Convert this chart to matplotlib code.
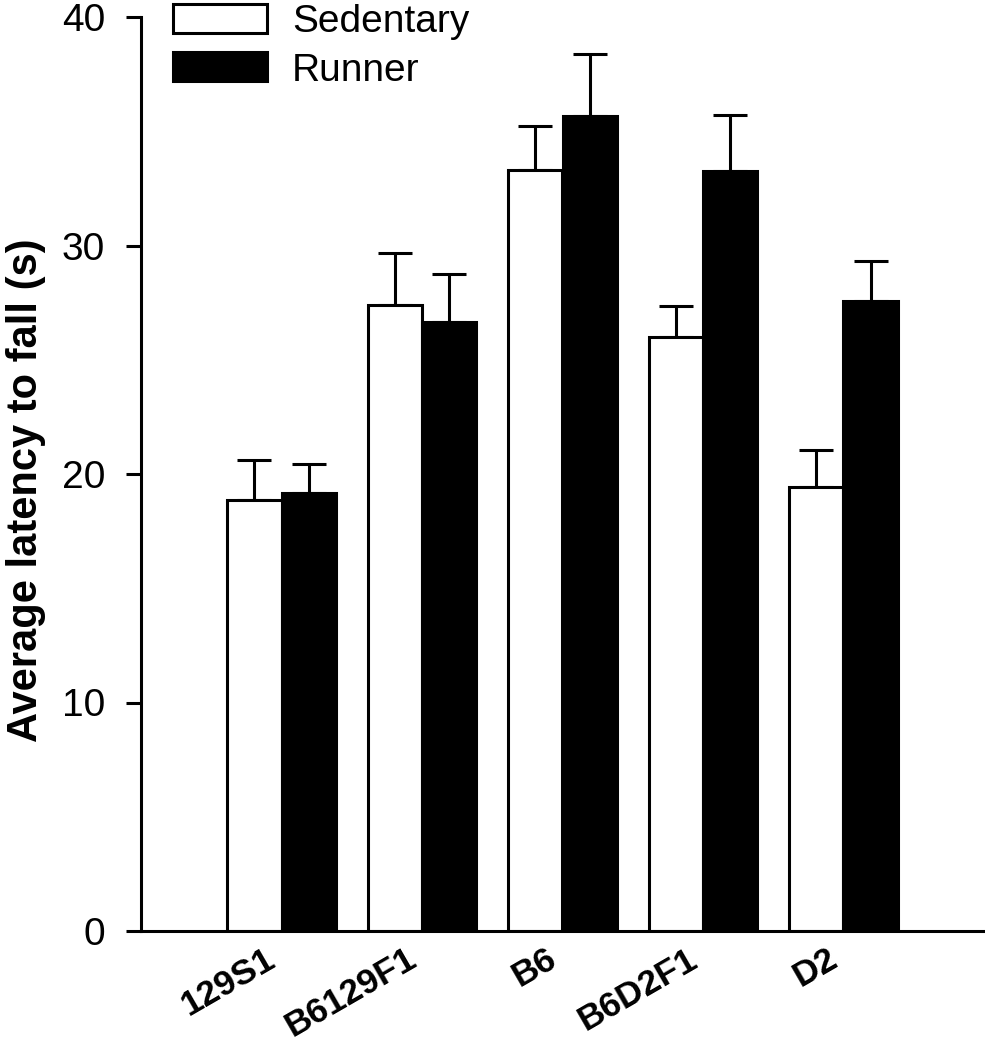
import matplotlib
matplotlib.use("Agg")
import matplotlib.pyplot as plt
import matplotlib.transforms as mtransforms
import numpy as np

plt.rcParams['font.family'] = ['Liberation Sans', 'DejaVu Sans']

strains = ["129S1", "B6129F1", "B6", "B6D2F1", "D2"]
sedentary = [18.85, 27.4, 33.3, 26.0, 19.45]
sedentary_err = [1.75, 2.25, 1.95, 1.35, 1.6]
runner = [19.15, 26.65, 35.65, 33.25, 27.55]
runner_err = [1.3, 2.1, 2.75, 2.45, 1.75]
series_labels = ["Sedentary", "Runner"]
yticks = [0, 10, 20, 30, 40]

W, H = 985, 1050
fig = plt.figure(figsize=(W/100, H/100), dpi=100)
ax = fig.add_axes([141/W, (H-931)/H, (984-141)/W, (931-17)/H])

x = np.arange(len(strains))
w = 0.385
lw = 2.2
ax.bar(x - w/2, sedentary, w, color='white', edgecolor='black', linewidth=lw,
       label=series_labels[0], zorder=2)
ax.bar(x + w/2, runner, w, color='black', edgecolor='black', linewidth=lw,
       label=series_labels[1], zorder=2)
ax.errorbar(x - w/2, sedentary, yerr=[np.zeros(5), sedentary_err], fmt='none',
            ecolor='black', elinewidth=lw, capsize=11.9, capthick=lw, zorder=1)
ax.errorbar(x + w/2, runner, yerr=[np.zeros(5), runner_err], fmt='none',
            ecolor='black', elinewidth=lw, capsize=11.9, capthick=lw, zorder=1)

ax.set_xlim(-1.0, 5.0)
ax.set_ylim(0, 40)
ax.set_yticks(yticks)
ax.set_yticklabels([str(t) for t in yticks], fontsize=28)
ax.set_xticks(x)
ax.set_xticklabels(strains, rotation=30, ha='right',
                   fontsize=25.5, fontweight='bold')
offset = mtransforms.ScaledTranslation(6/100, 0, fig.dpi_scale_trans)
for lab in ax.get_xticklabels():
    lab.set_transform(lab.get_transform() + offset)
ax.tick_params(axis='x', length=0, pad=8)
ax.tick_params(axis='y', length=11, width=lw, direction='out', pad=15)
for s in ['top', 'right']:
    ax.spines[s].set_visible(False)
for s in ['left', 'bottom']:
    ax.spines[s].set_linewidth(lw)
ax.set_ylabel("Average latency to fall (s)", fontsize=30, fontweight='bold')
ax.yaxis.set_label_coords(-0.113, 0.482)

leg = ax.legend(loc='upper left', bbox_to_anchor=(173/W, (H-4)/H),
                bbox_transform=fig.transFigure, frameon=False, borderpad=0,
                borderaxespad=0, fontsize=28, handlelength=2.42, handleheight=0.77,
                handletextpad=0.64, labelspacing=0.32)

fig.savefig("out.png", dpi=100)
